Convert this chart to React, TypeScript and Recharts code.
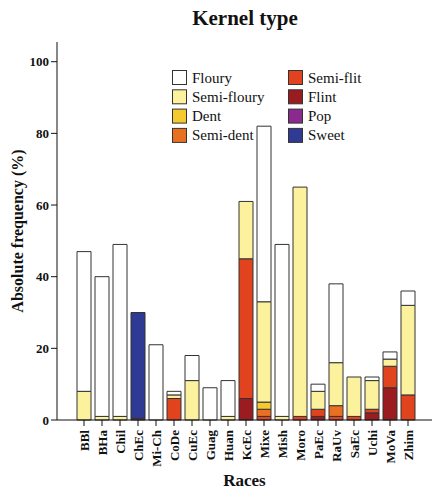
import { BarChart, Bar, XAxis, YAxis } from "recharts";

const races = ["BBl", "BHa", "Chil", "ChEc", "Mi-Ch", "CoDe", "CuEc", "Guag", "Huan", "KcEc", "Mixe", "Mish", "Moro", "PaEc", "RaUv", "SaEc", "Uchi", "MoVa", "Zhim"];

const floury = [39, 39, 48, 0, 21, 1, 7, 9, 10, 0, 49, 48, 0, 2, 22, 0, 1, 2, 4];
const semiFloury = [8, 1, 1, 0, 0, 1, 11, 0, 1, 16, 28, 1, 64, 5, 12, 11, 8, 2, 25];
const dent = [0, 0, 0, 0, 0, 0, 0, 0, 0, 0, 2, 0, 0, 0, 0, 0, 0, 0, 0];
const semiDent = [0, 0, 0, 0, 0, 0, 0, 0, 0, 0, 2, 0, 0, 0, 3, 0, 0, 0, 0];
const semiFlit = [0, 0, 0, 0, 0, 6, 0, 0, 0, 39, 1, 0, 1, 2, 1, 1, 1, 6, 7];
const flint = [0, 0, 0, 0, 0, 0, 0, 0, 0, 6, 0, 0, 0, 1, 0, 0, 2, 9, 0];
const pop = [0, 0, 0, 0.5, 0, 0, 0, 0, 0, 0, 0, 0, 0, 0, 0, 0, 0, 0, 0];
const sweet = [0, 0, 0, 29.5, 0, 0, 0, 0, 0, 0, 0, 0, 0, 0, 0, 0, 0, 0, 0];

const yTicks = [0, 20, 40, 60, 80, 100];

// legend order (two columns of four)
const types = [
  { key: "floury", name: "Floury", color: "#ffffff", values: floury },
  { key: "semiFloury", name: "Semi-floury", color: "#fcf29e", values: semiFloury },
  { key: "dent", name: "Dent", color: "#f5c930", values: dent },
  { key: "semiDent", name: "Semi-dent", color: "#ea7021", values: semiDent },
  { key: "semiFlit", name: "Semi-flit", color: "#e2431f", values: semiFlit },
  { key: "flint", name: "Flint", color: "#9b1c20", values: flint },
  { key: "pop", name: "Pop", color: "#8a2a8e", values: pop },
  { key: "sweet", name: "Sweet", color: "#2f3a95", values: sweet },
];

// stacking order, bottom to top
const stackOrder = ["pop", "flint", "semiFlit", "semiDent", "dent", "semiFloury", "floury", "sweet"];

const data = races.map((race, i) => {
  const row: Record<string, string | number> = { race };
  types.forEach((t) => (row[t.key] = t.values[i]));
  return row;
});

const FONT = "Liberation Serif";

function RaceTick({ x, y, payload }: any) {
  return (
    <text
      x={x}
      y={y + 2}
      dy="0.35em"
      transform={`rotate(-90, ${x}, ${y + 2})`}
      textAnchor="end"
      fontFamily={FONT}
      fontWeight="bold"
      fontSize={13}
      fill="#111"
    >
      {payload.value}
    </text>
  );
}

// two-column legend drawn as an svg overlay
function LegendBlock() {
  return (
    <svg width={433} height={492} style={{ position: "absolute", left: 0, top: 0, pointerEvents: "none" }}>
      <text x={245} y={25} textAnchor="middle" fontFamily={FONT} fontWeight="bold" fontSize={21} fill="#111">
        Kernel type
      </text>
      {types.map((t, i) => {
        const x = i < 4 ? 172 : 288;
        const y = 70 + (i % 4) * 19.3;
        return (
          <g key={t.key}>
            <rect x={x + 0.5} y={y + 0.5} width={14} height={14} fill={t.color} stroke="#333" />
            <text x={x + 20} y={y + 12.5} fontFamily={FONT} fontSize={15} fill="#111">
              {t.name}
            </text>
          </g>
        );
      })}
    </svg>
  );
}

export default function App() {
  return (
    <div style={{ position: "absolute", left: 0, top: 0, width: 433, height: 492, background: "#fff" }}>
      <BarChart
        width={433}
        height={492}
        data={data}
        margin={{ top: 42, right: 1, left: 0, bottom: 2 }}
        barSize={14}
      >
        <XAxis
          dataKey="race"
          interval={0}
          height={70}
          padding={{ left: 18, right: 15 }}
          tick={<RaceTick />}
          tickSize={6}
          axisLine={{ stroke: "#111" }}
          tickLine={{ stroke: "#111" }}
          label={{
            value: "Races",
            position: "insideBottom",
            offset: 4,
            style: { fontFamily: FONT, fontWeight: "bold", fontSize: 17, fill: "#111" },
          }}
        />
        <YAxis
          width={57}
          domain={[0, 105.5]}
          ticks={yTicks}
          tickSize={6}
          tickMargin={2}
          axisLine={{ stroke: "#111" }}
          tickLine={{ stroke: "#111" }}
          tick={{ fontFamily: FONT, fontWeight: "bold", fontSize: 13, fill: "#111" }}
          label={{
            value: "Absolute frequency (%)",
            angle: -90,
            position: "insideLeft",
            offset: 17,
            style: { textAnchor: "middle", fontFamily: FONT, fontWeight: "bold", fontSize: 16, fill: "#111" },
          }}
        />
        {stackOrder.map((k) => {
          const t = types.find((tt) => tt.key === k)!;
          return (
            <Bar
              key={k}
              dataKey={k}
              name={t.name}
              stackId="a"
              fill={t.color}
              stroke="#333"
              strokeWidth={1}
              isAnimationActive={false}
            />
          );
        })}
      </BarChart>
      <LegendBlock />
    </div>
  );
}
